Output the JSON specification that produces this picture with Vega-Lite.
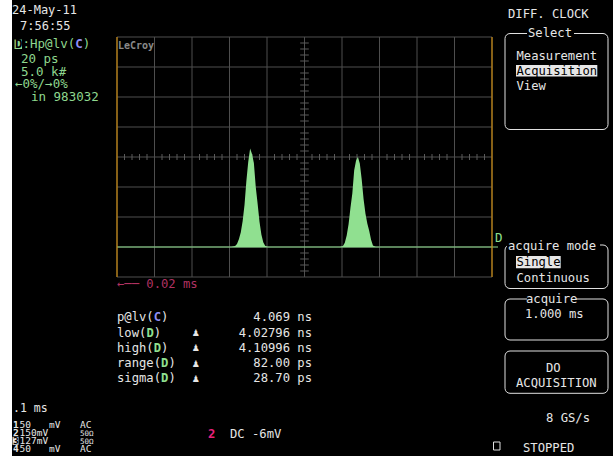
{
  "$schema": "https://vega.github.io/schema/vega-lite/v6.json",
  "width": 375,
  "height": 240,
  "autosize": {"type": "none"},
  "padding": {"left": 117, "top": 37, "right": 121, "bottom": 179},
  "background": "#000000",
  "config": {
    "view": {"stroke": null},
    "axis": {"disable": true},
    "text": {"font": "DejaVu Sans Mono", "fontSize": 12.2, "color": "#e6e6e6", "align": "left", "baseline": "alphabetic"}
  },
  "datasets": {
    "hist": [
      {"t": 4.0300, "n": 0}, {"t": 4.0320, "n": 150}, {"t": 4.0330, "n": 500}, {"t": 4.0340, "n": 1300},
      {"t": 4.0350, "n": 2400}, {"t": 4.0360, "n": 4300}, {"t": 4.0370, "n": 7000}, {"t": 4.0380, "n": 11000},
      {"t": 4.0390, "n": 14200}, {"t": 4.0400, "n": 16400}, {"t": 4.0410, "n": 15500}, {"t": 4.0420, "n": 14000},
      {"t": 4.0430, "n": 10000}, {"t": 4.0440, "n": 7200}, {"t": 4.0450, "n": 4200}, {"t": 4.0460, "n": 2100},
      {"t": 4.0470, "n": 800}, {"t": 4.0480, "n": 200}, {"t": 4.0495, "n": 0},
      {"t": 4.0880, "n": 0}, {"t": 4.0895, "n": 150}, {"t": 4.0905, "n": 700}, {"t": 4.0915, "n": 1900},
      {"t": 4.0925, "n": 3800}, {"t": 4.0935, "n": 6500}, {"t": 4.0945, "n": 8900}, {"t": 4.0955, "n": 12800},
      {"t": 4.0965, "n": 14400}, {"t": 4.0975, "n": 15000}, {"t": 4.0985, "n": 13900}, {"t": 4.0995, "n": 11300},
      {"t": 4.1005, "n": 8000}, {"t": 4.1015, "n": 5600}, {"t": 4.1025, "n": 3900}, {"t": 4.1035, "n": 2700},
      {"t": 4.1045, "n": 1200}, {"t": 4.1055, "n": 250}, {"t": 4.1070, "n": 0}
    ],
    "gridx": [
      {"g": 3.969}, {"g": 3.989}, {"g": 4.009}, {"g": 4.029}, {"g": 4.049}, {"g": 4.069},
      {"g": 4.089}, {"g": 4.109}, {"g": 4.129}, {"g": 4.149}, {"g": 4.169}
    ],
    "gridy": [
      {"g": -5000}, {"g": 0}, {"g": 5000}, {"g": 10000}, {"g": 15000},
      {"g": 20000}, {"g": 25000}, {"g": 30000}, {"g": 35000}
    ],
    "minorx": [
      {"m": 3.973}, {"m": 3.977}, {"m": 3.981}, {"m": 3.985}, {"m": 3.993}, {"m": 3.997}, {"m": 4.001}, {"m": 4.005},
      {"m": 4.013}, {"m": 4.017}, {"m": 4.021}, {"m": 4.025}, {"m": 4.033}, {"m": 4.037}, {"m": 4.041}, {"m": 4.045},
      {"m": 4.053}, {"m": 4.057}, {"m": 4.061}, {"m": 4.065}, {"m": 4.073}, {"m": 4.077}, {"m": 4.081}, {"m": 4.085},
      {"m": 4.093}, {"m": 4.097}, {"m": 4.101}, {"m": 4.105}, {"m": 4.113}, {"m": 4.117}, {"m": 4.121}, {"m": 4.125},
      {"m": 4.133}, {"m": 4.137}, {"m": 4.141}, {"m": 4.145}, {"m": 4.153}, {"m": 4.157}, {"m": 4.161}, {"m": 4.165}
    ],
    "minory": [
      {"m": -4000}, {"m": -3000}, {"m": -2000}, {"m": -1000}, {"m": 1000}, {"m": 2000}, {"m": 3000}, {"m": 4000},
      {"m": 6000}, {"m": 7000}, {"m": 8000}, {"m": 9000}, {"m": 11000}, {"m": 12000}, {"m": 13000}, {"m": 14000},
      {"m": 16000}, {"m": 17000}, {"m": 18000}, {"m": 19000}, {"m": 21000}, {"m": 22000}, {"m": 23000}, {"m": 24000},
      {"m": 26000}, {"m": 27000}, {"m": 28000}, {"m": 29000}, {"m": 31000}, {"m": 32000}, {"m": 33000}, {"m": 34000}
    ]
  },
  "data": {"values": [{}]},
  "layer": [
    {"mark": {"type": "rect", "x": -117, "x2": -105, "y": -37, "y2": 419, "fill": "#ffffff"}},

    {"data": {"name": "gridx"}, "mark": {"type": "rule", "color": "#4e4e4e", "strokeWidth": 1},
     "encoding": {"x": {"field": "g", "type": "quantitative", "axis": null, "scale": {"domain": [3.969, 4.169], "nice": false, "zero": false}}}},
    {"data": {"name": "gridy"}, "mark": {"type": "rule", "color": "#4e4e4e", "strokeWidth": 1},
     "encoding": {"y": {"field": "g", "type": "quantitative", "axis": null, "scale": {"domain": [-5000, 35000], "nice": false, "zero": false}}}},
    {"data": {"name": "minorx"}, "mark": {"type": "rule", "color": "#5a5a5a", "strokeWidth": 1},
     "encoding": {
       "x": {"field": "m", "type": "quantitative", "axis": null, "scale": {"domain": [3.969, 4.169], "nice": false, "zero": false}},
       "y": {"datum": 14500, "type": "quantitative", "axis": null, "scale": {"domain": [-5000, 35000], "nice": false, "zero": false}},
       "y2": {"datum": 15500}
     }},
    {"data": {"name": "minory"}, "mark": {"type": "rule", "color": "#5a5a5a", "strokeWidth": 1},
     "encoding": {
       "y": {"field": "m", "type": "quantitative", "axis": null, "scale": {"domain": [-5000, 35000], "nice": false, "zero": false}},
       "x": {"datum": 4.0667, "type": "quantitative", "axis": null, "scale": {"domain": [3.969, 4.169], "nice": false, "zero": false}},
       "x2": {"datum": 4.0713}
     }},

    {"data": {"name": "hist"}, "mark": {"type": "area", "color": "#90e090", "interpolate": "linear"},
     "encoding": {
       "x": {"field": "t", "type": "quantitative", "axis": null, "scale": {"domain": [3.969, 4.169], "nice": false, "zero": false}},
       "y": {"field": "n", "type": "quantitative", "axis": null, "scale": {"domain": [-5000, 35000], "nice": false, "zero": false}},
       "y2": {"datum": 0}
     }},
    {"mark": {"type": "rule", "color": "#90e090", "strokeWidth": 1},
     "encoding": {
       "y": {"datum": 0, "type": "quantitative", "axis": null, "scale": {"domain": [-5000, 35000], "nice": false, "zero": false}},
       "x": {"datum": 3.969, "type": "quantitative", "axis": null, "scale": {"domain": [3.969, 4.169], "nice": false, "zero": false}},
       "x2": {"datum": 4.1722}
     }},
    {"mark": {"type": "rule", "color": "#c8880c", "strokeWidth": 1.2},
     "encoding": {"x": {"datum": 3.969, "type": "quantitative", "axis": null, "scale": {"domain": [3.969, 4.169], "nice": false, "zero": false}}}},
    {"mark": {"type": "rule", "color": "#c8880c", "strokeWidth": 1.2},
     "encoding": {"x": {"datum": 4.169, "type": "quantitative", "axis": null, "scale": {"domain": [3.969, 4.169], "nice": false, "zero": false}}}},

    {"mark": {"type": "text", "x": 1, "y": 11.5, "text": "LeCroy", "fontSize": 10, "fontWeight": "bold", "color": "#8a8a8a"}},
    {"mark": {"type": "rule", "x": 1, "x2": 28, "y": 14.5, "y2": 14.5, "color": "#8a8a8a", "strokeWidth": 1.5}, "encoding": {}},
    {"mark": {"type": "text", "x": 378, "y": 204.5, "text": "D", "color": "#90e090", "fontSize": 12.5}},
    {"mark": {"type": "text", "x": 0, "y": 250.5, "text": "←── 0.02 ms", "color": "#b03262"}},

    {"mark": {"type": "text", "x": -105, "y": -23, "text": "24-May-11", "fontSize": 12}},
    {"mark": {"type": "text", "x": -97, "y": -7, "text": "7:56:55", "fontSize": 12}},

    {"mark": {"type": "rect", "x": -102.5, "x2": -95, "y": 2.5, "y2": 12, "fill": "#8fd88f"}},
    {"mark": {"type": "text", "x": -102, "y": 11, "text": "D", "fontSize": 12.5, "color": "#000000", "fontWeight": "bold"}},
    {"mark": {"type": "text", "x": -94.47, "y": 11, "text": ":Hp@lv(", "fontSize": 12.5, "color": "#8fd88f"}},
    {"mark": {"type": "text", "x": -41.79, "y": 11, "text": "C", "fontSize": 12.5, "color": "#8f8ff5", "fontWeight": "bold"}},
    {"mark": {"type": "text", "x": -34.27, "y": 11, "text": ")", "fontSize": 12.5, "color": "#8fd88f"}},
    {"mark": {"type": "rule", "x": -26, "x2": -16, "y": 7, "y2": 7, "color": "#8fd88f"}, "encoding": {}},
    {"mark": {"type": "rule", "x": -15.5, "x2": -15.5, "y": 7.5, "y2": 62.5, "color": "#8fd88f"}, "encoding": {}},
    {"mark": {"type": "rule", "x": -103.5, "x2": -103.5, "y": 6, "y2": 60, "color": "#8fd88f"}, "encoding": {}},
    {"mark": {"type": "rule", "x": -103.5, "x2": -88, "y": 60, "y2": 60, "color": "#8fd88f"}, "encoding": {}},
    {"mark": {"type": "text", "x": -96, "y": 25.5, "text": "20 ps", "fontSize": 12.5, "color": "#8fd88f"}},
    {"mark": {"type": "text", "x": -96, "y": 38.5, "text": "5.0 k#", "fontSize": 12.5, "color": "#8fd88f"}},
    {"mark": {"type": "text", "x": -102, "y": 51, "text": "←0%/→0%", "fontSize": 12.5, "color": "#8fd88f"}},
    {"mark": {"type": "text", "x": -86, "y": 64, "text": "in 983032", "fontSize": 12.5, "color": "#8fd88f"}},

    {"mark": {"type": "text", "x": 0, "y": 284, "text": "p@lv("}},
    {"mark": {"type": "text", "x": 36.73, "y": 284, "text": "C", "color": "#8f8ff5", "fontWeight": "bold"}},
    {"mark": {"type": "text", "x": 44.07, "y": 284, "text": ")"}},
    {"mark": {"type": "text", "x": 0, "y": 299.5, "text": "low("}},
    {"mark": {"type": "text", "x": 29.38, "y": 299.5, "text": "D", "color": "#90e090", "fontWeight": "bold"}},
    {"mark": {"type": "text", "x": 36.73, "y": 299.5, "text": ")"}},
    {"mark": {"type": "text", "x": 0, "y": 314.5, "text": "high("}},
    {"mark": {"type": "text", "x": 36.73, "y": 314.5, "text": "D", "color": "#90e090", "fontWeight": "bold"}},
    {"mark": {"type": "text", "x": 44.07, "y": 314.5, "text": ")"}},
    {"mark": {"type": "text", "x": 0, "y": 330, "text": "range("}},
    {"mark": {"type": "text", "x": 44.07, "y": 330, "text": "D", "color": "#90e090", "fontWeight": "bold"}},
    {"mark": {"type": "text", "x": 51.42, "y": 330, "text": ")"}},
    {"mark": {"type": "text", "x": 0, "y": 345, "text": "sigma("}},
    {"mark": {"type": "text", "x": 44.07, "y": 345, "text": "D", "color": "#90e090", "fontWeight": "bold"}},
    {"mark": {"type": "text", "x": 51.42, "y": 345, "text": ")"}},
    {"mark": {"type": "text", "x": 78.8, "y": 299, "text": "♟", "font": "DejaVu Sans", "fontSize": 9, "align": "center"}},
    {"mark": {"type": "text", "x": 78.8, "y": 314, "text": "♟", "font": "DejaVu Sans", "fontSize": 9, "align": "center"}},
    {"mark": {"type": "text", "x": 78.8, "y": 329.5, "text": "♟", "font": "DejaVu Sans", "fontSize": 9, "align": "center"}},
    {"mark": {"type": "text", "x": 78.8, "y": 344.5, "text": "♟", "font": "DejaVu Sans", "fontSize": 9, "align": "center"}},
    {"mark": {"type": "text", "x": 195, "y": 284, "text": "4.069 ns", "align": "right"}},
    {"mark": {"type": "text", "x": 195, "y": 299.5, "text": "4.02796 ns", "align": "right"}},
    {"mark": {"type": "text", "x": 195, "y": 314.5, "text": "4.10996 ns", "align": "right"}},
    {"mark": {"type": "text", "x": 195, "y": 330, "text": "82.00 ps", "align": "right"}},
    {"mark": {"type": "text", "x": 195, "y": 345, "text": "28.70 ps", "align": "right"}},

    {"mark": {"type": "text", "x": 391, "y": -18.7, "text": "DIFF. CLOCK"}},
    {"mark": {"type": "rect", "x": 388, "x2": 491, "y": -3.5, "y2": 92.5, "cornerRadius": 5, "filled": false, "color": "#e0e0e0", "strokeWidth": 1}},
    {"mark": {"type": "rect", "x": 410, "x2": 457, "y": -9, "y2": 1, "fill": "#000000"}},
    {"mark": {"type": "text", "x": 433, "y": 0.3, "text": "Select", "align": "center"}},
    {"mark": {"type": "text", "x": 399.5, "y": 22.5, "text": "Measurement"}},
    {"mark": {"type": "rect", "x": 399, "x2": 480.3, "y": 28, "y2": 39.5, "fill": "#e6e6e6"}},
    {"mark": {"type": "text", "x": 399.5, "y": 37.5, "text": "Acquisition", "color": "#000000"}},
    {"mark": {"type": "text", "x": 399.5, "y": 52.5, "text": "View"}},
    {"mark": {"type": "rule", "x": 491, "x2": 491, "y": 1, "y2": 8, "color": "#e6e6e6", "strokeWidth": 2}, "encoding": {}},
    {"mark": {"type": "rule", "x": 490.5, "x2": 490.5, "y": 77, "y2": 86, "color": "#e6e6e6", "strokeWidth": 2}, "encoding": {}},

    {"mark": {"type": "rect", "x": 388, "x2": 491, "y": 208, "y2": 251.5, "cornerRadius": 5, "filled": false, "color": "#e0e0e0", "strokeWidth": 1}},
    {"mark": {"type": "rect", "x": 390, "x2": 483, "y": 203, "y2": 213, "fill": "#000000"}},
    {"mark": {"type": "text", "x": 391, "y": 212.5, "text": "acquire mode"}},
    {"mark": {"type": "rect", "x": 399, "x2": 443.7, "y": 219, "y2": 231.3, "fill": "#e6e6e6"}},
    {"mark": {"type": "text", "x": 399.5, "y": 229, "text": "Single", "color": "#000000"}},
    {"mark": {"type": "text", "x": 399.5, "y": 244.5, "text": "Continuous"}},

    {"mark": {"type": "rect", "x": 388, "x2": 491, "y": 262, "y2": 303, "cornerRadius": 5, "filled": false, "color": "#e0e0e0", "strokeWidth": 1}},
    {"mark": {"type": "rect", "x": 410, "x2": 459, "y": 257, "y2": 267, "fill": "#000000"}},
    {"mark": {"type": "text", "x": 434.7, "y": 265.5, "text": "acquire", "align": "center"}},
    {"mark": {"type": "text", "x": 408, "y": 280.5, "text": "1.000 ms"}},

    {"mark": {"type": "rect", "x": 388, "x2": 491, "y": 314, "y2": 356.3, "cornerRadius": 5, "filled": false, "color": "#e0e0e0", "strokeWidth": 1}},
    {"mark": {"type": "text", "x": 429, "y": 334.5, "text": "DO"}},
    {"mark": {"type": "text", "x": 399, "y": 350.3, "text": "ACQUISITION"}},

    {"mark": {"type": "text", "x": 429, "y": 384.5, "text": "8 GS/s"}},
    {"mark": {"type": "rect", "x": 376.5, "x2": 383, "y": 405, "y2": 413, "filled": false, "color": "#e0e0e0", "strokeWidth": 1}},
    {"mark": {"type": "text", "x": 406, "y": 414.5, "text": "STOPPED"}},

    {"mark": {"type": "text", "x": -104, "y": 375, "text": ".1 ms", "fontSize": 11.5}},
    {"mark": {"type": "text", "x": -104, "y": 390.5, "text": "1", "fontSize": 9.5, "fontWeight": "bold"}},
    {"mark": {"type": "text", "x": -97.5, "y": 390.5, "text": "50", "fontSize": 9.5}},
    {"mark": {"type": "text", "x": -68, "y": 390.5, "text": "mV", "fontSize": 9.5}},
    {"mark": {"type": "text", "x": -37, "y": 390.5, "text": "AC", "fontSize": 9.5}},
    {"mark": {"type": "text", "x": -104, "y": 398.8, "text": "2", "fontSize": 9.5, "fontWeight": "bold"}},
    {"mark": {"type": "text", "x": -97.5, "y": 398.8, "text": "150mV", "fontSize": 9.5}},
    {"mark": {"type": "text", "x": -37, "y": 398.8, "text": "50Ω", "fontSize": 7.5}},
    {"mark": {"type": "rect", "x": -104.5, "x2": -98.5, "y": 399.8, "y2": 407.8, "fill": "#e6e6e6"}},
    {"mark": {"type": "text", "x": -104, "y": 407, "text": "3", "fontSize": 9.5, "fontWeight": "bold", "color": "#000000"}},
    {"mark": {"type": "text", "x": -97.5, "y": 407, "text": "127mV", "fontSize": 9.5}},
    {"mark": {"type": "text", "x": -37, "y": 407, "text": "50Ω", "fontSize": 7.5}},
    {"mark": {"type": "text", "x": -104, "y": 415.2, "text": "4", "fontSize": 9.5, "fontWeight": "bold"}},
    {"mark": {"type": "text", "x": -97.5, "y": 415.2, "text": "50", "fontSize": 9.5}},
    {"mark": {"type": "text", "x": -68, "y": 415.2, "text": "mV", "fontSize": 9.5}},
    {"mark": {"type": "text", "x": -37, "y": 415.2, "text": "AC", "fontSize": 9.5}},

    {"mark": {"type": "rule", "x": 14.7, "x2": 30, "y": 403, "y2": 403, "color": "#e6e6e6", "strokeWidth": 1.5}, "encoding": {}},
    {"mark": {"type": "rule", "x": 30, "x2": 36, "y": 403, "y2": 403, "color": "#e8207a", "strokeWidth": 1.5}, "encoding": {}},
    {"mark": {"type": "rule", "x": 35.7, "x2": 35.7, "y": 391.5, "y2": 403, "color": "#e8207a", "strokeWidth": 1.5}, "encoding": {}},
    {"mark": {"type": "rule", "x": 39, "x2": 53, "y": 391.5, "y2": 391.5, "color": "#e6e6e6", "strokeWidth": 1.5}, "encoding": {}},
    {"mark": {"type": "text", "x": 91, "y": 400.5, "text": "2", "color": "#e8207a", "fontWeight": "bold"}},
    {"mark": {"type": "text", "x": 113, "y": 400.5, "text": "DC -6mV"}}
  ]
}
